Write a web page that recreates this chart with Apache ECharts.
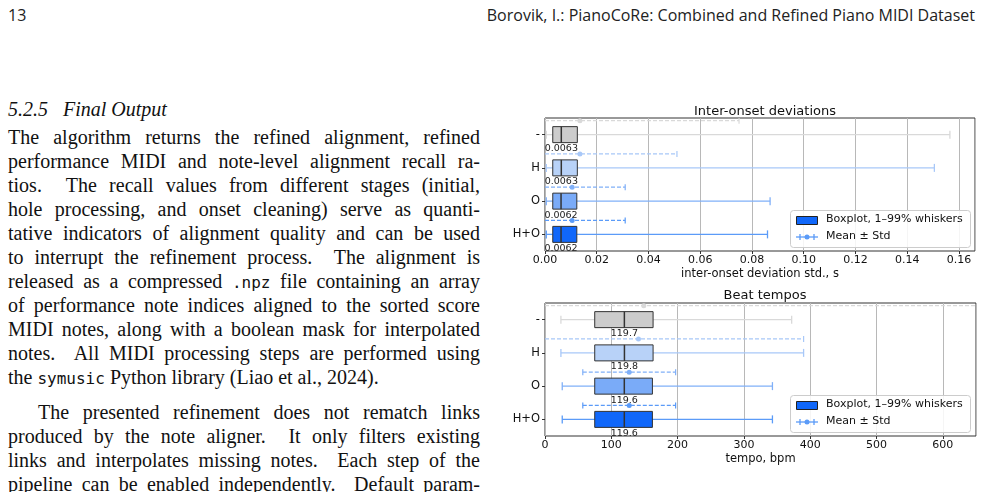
<!DOCTYPE html>
<html><head><meta charset="utf-8">
<script src="https://cdn.jsdelivr.net/npm/echarts@6/dist/echarts.min.js"></script>
<style>
body{margin:0;width:983px;height:492px;background:#fff;overflow:hidden;position:relative;font-family:"Liberation Serif",serif;}
.hd{position:absolute;top:4px;font-family:"Open Sans","Noto Sans",sans-serif;font-size:16px;color:#222;}
.ln{position:absolute;left:8px;width:472px;font-size:20px;line-height:24px;color:#111;text-align:justify;text-align-last:justify;white-space:nowrap;}
.ln.last{text-align-last:left;}
.mono{font-family:"DejaVu Sans Mono",monospace;font-size:16px;}
#c{position:absolute;left:0;top:0;width:983px;height:492px;}
</style></head><body>
<div class="hd" style="left:8px">13</div>
<div class="hd" style="right:8px">Borovik, I.: PianoCoRe: Combined and Refined Piano MIDI Dataset</div>
<div class="ln last" style="top:97px;font-style:italic">5.2.5&nbsp;&nbsp;&nbsp;Final Output</div>
<div class="ln" style="top:125px">The algorithm returns the refined alignment, refined</div>
<div class="ln" style="top:149px">performance MIDI and note-level alignment recall ra-</div>
<div class="ln" style="top:173px">tios.&nbsp; The recall values from different stages (initial,</div>
<div class="ln" style="top:197px">hole processing, and onset cleaning) serve as quanti-</div>
<div class="ln" style="top:221px">tative indicators of alignment quality and can be used</div>
<div class="ln" style="top:245px">to interrupt the refinement process.&nbsp; The alignment is</div>
<div class="ln" style="top:269px">released as a compressed <span class="mono">.npz</span> file containing an array</div>
<div class="ln" style="top:293px">of performance note indices aligned to the sorted score</div>
<div class="ln" style="top:317px">MIDI notes, along with a boolean mask for interpolated</div>
<div class="ln" style="top:341px">notes.&nbsp; All MIDI processing steps are performed using</div>
<div class="ln last" style="top:365px">the <span class="mono">symusic</span> Python library (Liao et al., 2024).</div>
<div class="ln" style="top:400px;left:38px;width:442px">The presented refinement does not rematch links</div>
<div class="ln" style="top:424px">produced by the note aligner.&nbsp; It only filters existing</div>
<div class="ln" style="top:448px">links and interpolates missing notes.&nbsp; Each step of the</div>
<div class="ln" style="top:472px">pipeline can be enabled independently.&nbsp; Default param-</div>
<div id="c"></div>
<script>
const categories = ['-', 'H', 'O', 'H+O'];
const faceColors = ['#cccccc', '#b8d2f8', '#7aabf8', '#1067fa'];
const lineColors = ['#d9d9d9', '#a8c8f8', '#80b0f8', '#5b9bf8'];
// inter-onset deviations: [lowWhisker, q1, median, q3, highWhisker]
const ioBox = [
  [0.0005, 0.003, 0.0063, 0.0125, 0.1565],
  [0.0005, 0.003, 0.0063, 0.0125, 0.1505],
  [0.0005, 0.003, 0.0062, 0.0123, 0.0870],
  [0.0005, 0.003, 0.0062, 0.0123, 0.0860]
];
const ioMedianLabels = ['0.0063', '0.0063', '0.0062', '0.0062'];
// [mean, mean-std, mean+std]
const ioMean = [
  [0.0135, -0.048, 0.075],
  [0.0135, -0.024, 0.051],
  [0.0105, -0.010, 0.031],
  [0.0105, -0.010, 0.031]
];
const tpBox = [
  [24, 75, 119.7, 163, 372],
  [24, 75, 119.8, 163, 390],
  [26, 75, 119.6, 162, 343],
  [26, 75, 119.6, 162, 343]
];
const tpMedianLabels = ['119.7', '119.8', '119.6', '119.6'];
const tpMean = [
  [149, -360, 658],
  [141, -108, 390],
  [127, 57, 197],
  [127, 57, 197]
];
const ioTicks = [0, 0.02, 0.04, 0.06, 0.08, 0.10, 0.12, 0.14, 0.16];
const tpTicks = [0, 100, 200, 300, 400, 500, 600];

function makeData(box, mean, labels){
  return box.map((b,i)=>[i].concat(b, mean[i], labels[i]));
}
function renderItem(params, api){
  const c = api.value(0);
  const xmin = params.coordSys.x, xmax = params.coordSys.x + params.coordSys.width;
  const P = v => api.coord([api.value(v), c]);
  const clampX = x => Math.max(xmin, Math.min(xmax, x));
  const lw = P(1), q1 = P(2), md = P(3), q3 = P(4), hw = P(5);
  const mn = P(6), ml = P(7), mh = P(8);
  const y = md[1], h = 8, cap = 4, my = y - 14;
  const lc = lineColors[c], fc = faceColors[c];
  const ls = {stroke: lc, lineWidth: 1.3};
  const ch = [];
  ch.push({type:'line', shape:{x1:lw[0],y1:y,x2:q1[0],y2:y}, style:ls});
  ch.push({type:'line', shape:{x1:q3[0],y1:y,x2:hw[0],y2:y}, style:ls});
  ch.push({type:'line', shape:{x1:lw[0],y1:y-cap,x2:lw[0],y2:y+cap}, style:ls});
  ch.push({type:'line', shape:{x1:hw[0],y1:y-cap,x2:hw[0],y2:y+cap}, style:ls});
  ch.push({type:'rect', shape:{x:q1[0],y:y-h,width:q3[0]-q1[0],height:2*h}, style:{fill:fc, stroke:'#333', lineWidth:1}});
  ch.push({type:'line', shape:{x1:md[0],y1:y-h,x2:md[0],y2:y+h}, style:{stroke:'#333', lineWidth:1.5}});
  ch.push({type:'text', x:md[0], y:y+h+1, style:{text:api.value(9), font:'9.5px "DejaVu Sans"', fill:'#222', align:'center', verticalAlign:'top'}});
  const x1 = clampX(ml[0]), x2 = clampX(mh[0]);
  const ds = {stroke: lc, lineWidth: 1.2, lineDash:[4,2]};
  ch.push({type:'line', shape:{x1:x1,y1:my,x2:x2,y2:my}, style:ds});
  if (ml[0] >= xmin) ch.push({type:'line', shape:{x1:ml[0],y1:my-3,x2:ml[0],y2:my+3}, style:{stroke:lc,lineWidth:1.2}});
  if (mh[0] <= xmax) ch.push({type:'line', shape:{x1:mh[0],y1:my-3,x2:mh[0],y2:my+3}, style:{stroke:lc,lineWidth:1.2}});
  ch.push({type:'circle', shape:{cx:mn[0],cy:my,r:2.5}, style:{fill:lc}});
  return {type:'group', children:ch};
}
const axFont = {fontFamily:'DejaVu Sans', fontSize:11, color:'#111'};
function xAxis(gi, max, ticks, name, fmt){
  return {type:'value', gridIndex:gi, min:0, max:max, interval:ticks[1]-ticks[0],
    name:name, nameLocation:'middle', nameGap:17, nameTextStyle:{fontFamily:'DejaVu Sans',fontSize:11.5,color:'#111'},
    axisLine:{show:false}, axisTick:{show:true, length:3, lineStyle:{color:'#333'}},
    axisLabel:Object.assign({margin:4, formatter:fmt, showMaxLabel:false}, axFont),
    splitLine:{show:true, lineStyle:{color:'#b8b8b8', width:1}}};
}
function yAxis(gi){
  return {type:'category', gridIndex:gi, data:categories, inverse:true,
    axisLine:{show:false}, axisTick:{show:true, alignWithLabel:true, length:3, lineStyle:{color:'#333'}},
    axisLabel:Object.assign({margin:5}, axFont, {fontSize:11.5}), splitLine:{show:false}};
}
function legend(top){
  const L = 790, W = 180;
  return [
    {type:'rect', left:L, top:top, shape:{width:W, height:37, r:3}, style:{fill:'rgba(255,255,255,0.85)', stroke:'#ccc', lineWidth:1}, z:10},
    {type:'rect', left:L+6, top:top+6, shape:{width:21, height:8}, style:{fill:'#1067fa', stroke:'#222', lineWidth:1}, z:11},
    {type:'text', left:L+36, top:top+4, style:{text:'Boxplot, 1–99% whiskers', font:'11px "DejaVu Sans"', fill:'#111'}, z:11},
    {type:'line', shape:{x1:L+6, y1:top+27, x2:L+28, y2:top+27}, style:{stroke:'#5b9bf8', lineWidth:1.3}, z:11},
    {type:'line', shape:{x1:L+10, y1:top+24, x2:L+10, y2:top+30}, style:{stroke:'#5b9bf8', lineWidth:1.3}, z:11},
    {type:'line', shape:{x1:L+24, y1:top+24, x2:L+24, y2:top+30}, style:{stroke:'#5b9bf8', lineWidth:1.3}, z:11},
    {type:'circle', shape:{cx:L+17, cy:top+27, r:2.5}, style:{fill:'#5b9bf8'}, z:11},
    {type:'text', left:L+36, top:top+21, style:{text:'Mean ± Std', font:'11px "DejaVu Sans"', fill:'#111'}, z:11}
  ];
}
const chart = echarts.init(document.getElementById('c'), null, {renderer:'canvas'});
chart.setOption({
  animation:false,
  title:[
    {text:'Inter-onset deviations', left:760, top:100, textAlign:'center', textStyle:{fontFamily:'DejaVu Sans', fontSize:13, fontWeight:'normal', color:'#111'}},
    {text:'Beat tempos', left:760, top:284, textAlign:'center', textStyle:{fontFamily:'DejaVu Sans', fontSize:13, fontWeight:'normal', color:'#111'}}
  ],
  grid:[
    {left:545, top:118, width:430, height:133, show:true, borderColor:'#333', borderWidth:1, backgroundColor:'transparent'},
    {left:545, top:303, width:431, height:133, show:true, borderColor:'#333', borderWidth:1, backgroundColor:'transparent'}
  ],
  xAxis:[
    xAxis(0, 0.1662, ioTicks, 'inter-onset deviation std., s', v=>v.toFixed(2)),
    xAxis(1, 650, tpTicks, 'tempo, bpm', v=>String(v))
  ],
  yAxis:[yAxis(0), yAxis(1)],
  series:[
    {type:'custom', xAxisIndex:0, yAxisIndex:0, clip:true, renderItem:renderItem, data:makeData(ioBox, ioMean, ioMedianLabels)},
    {type:'custom', xAxisIndex:1, yAxisIndex:1, clip:true, renderItem:renderItem, data:makeData(tpBox, tpMean, tpMedianLabels)}
  ],
  graphic:legend(210).concat(legend(395))
});
</script>
</body></html>
